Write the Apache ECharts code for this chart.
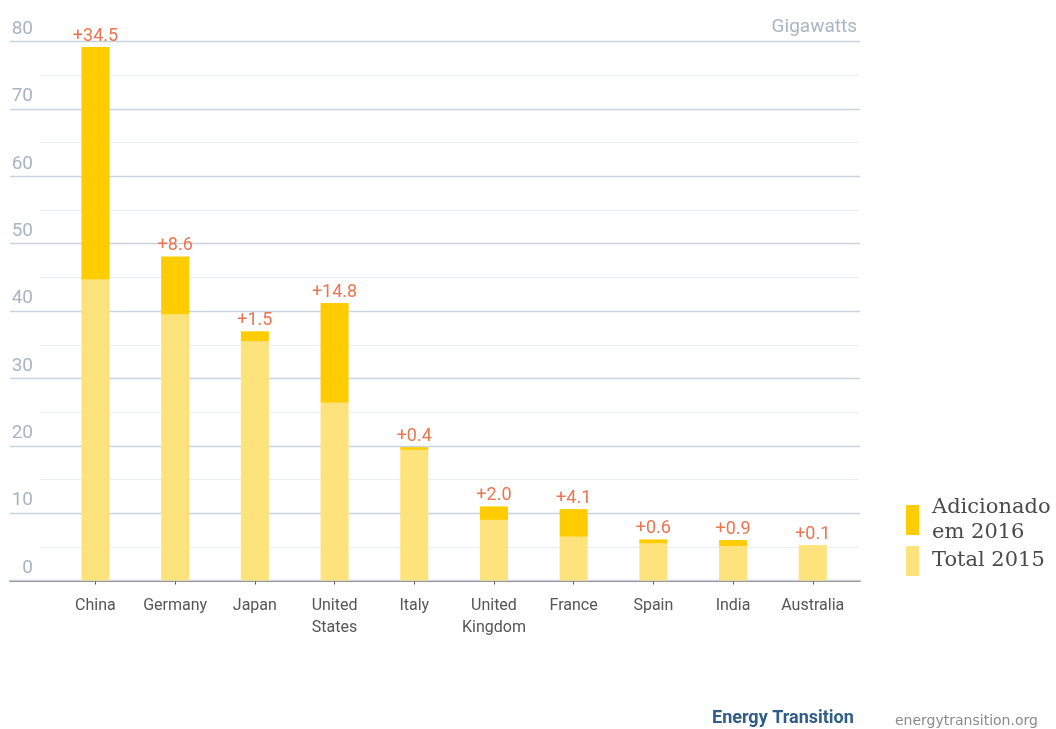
<!DOCTYPE html>
<html>
<head>
<meta charset="utf-8">
<title>Solar PV capacity by country</title>
<script src="https://cdn.jsdelivr.net/npm/echarts@6/dist/echarts.min.js"></script>
<style>
  html, body { margin: 0; padding: 0; background: #ffffff; }
  #chart { width: 1056px; height: 729px; }
</style>
</head>
<body>
<div id="chart"></div>
<script>
// Installed solar capacity (GW): end-2015 stock plus what was added in 2016
const categories = ['China', 'Germany', 'Japan', 'United\nStates', 'Italy', 'United\nKingdom', 'France', 'Spain', 'India', 'Australia'];
const total2015 = [44.7, 39.5, 35.5, 26.4, 19.4, 9.0, 6.5, 5.5, 5.1, 5.1];
const added2016 = [34.5, 8.6, 1.5, 14.8, 0.4, 2.0, 4.1, 0.6, 0.9, 0.1];
const yTicks = { min: 0, max: 80, major: 10, minor: 5 };
const seriesNames = ['Total 2015', 'Adicionado em 2016'];

const AXIS_GREY = '#a9b5c2';
const PLOT_TOP = 41.7;
const PLOT_BOTTOM = 148.5;

const chart = echarts.init(document.getElementById('chart'), null, { renderer: 'canvas' });

chart.setOption({
  animation: false,
  backgroundColor: '#ffffff',
  title: {
    text: 'Gigawatts',
    right: 199,
    top: 18,
    padding: 0,
    textStyle: { fontFamily: 'Roboto', fontSize: 19, fontWeight: 'normal', color: AXIS_GREY }
  },
  legend: {
    orient: 'vertical',
    left: 906,
    top: 495,
    padding: 0,
    itemWidth: 13,
    itemHeight: 30,
    itemGap: 1,
    icon: 'rect',
    selectedMode: false,
    data: [seriesNames[1], seriesNames[0]],
    formatter: function (name) { return name.replace(' em ', '\nem '); },
    textStyle: { fontFamily: 'DejaVu Serif', fontSize: 21, lineHeight: 25, color: '#4a4a4a', padding: [0, 0, 0, 8] }
  },
  grid: [
    // minor gridlines (every 5)
    { left: 40, right: 197, top: PLOT_TOP, bottom: PLOT_BOTTOM },
    // major gridlines, tick labels and baseline
    { left: 10, right: 196, top: PLOT_TOP, bottom: PLOT_BOTTOM },
    // bars
    { left: 55.6, right: 203.4, top: PLOT_TOP, bottom: PLOT_BOTTOM }
  ],
  xAxis: [
    { gridIndex: 0, type: 'value', min: 0, max: 1, show: false },
    {
      gridIndex: 1, type: 'value', min: 0, max: 1,
      axisLine: { show: true, lineStyle: { color: '#5a5a5a', width: 1.5 } },
      axisTick: { show: false }, axisLabel: { show: false }, splitLine: { show: false }
    },
    {
      gridIndex: 2, type: 'category', data: categories,
      axisLine: { show: false },
      axisTick: { show: true, alignWithLabel: true, length: 4, lineStyle: { color: '#5a5a5a', width: 1 } },
      axisLabel: { margin: 14, fontFamily: 'Roboto', fontSize: 16, lineHeight: 22, color: '#555555', interval: 0 }
    }
  ],
  yAxis: [
    {
      gridIndex: 0, type: 'value', min: yTicks.min, max: yTicks.max, interval: yTicks.minor, z: 0,
      axisLine: { show: false }, axisTick: { show: false }, axisLabel: { show: false },
      splitLine: { show: true, lineStyle: { color: '#e8edf2', width: 1.2 } }
    },
    {
      gridIndex: 1, type: 'value', min: yTicks.min, max: yTicks.max, interval: yTicks.major, z: 1,
      axisLine: { show: false }, axisTick: { show: false },
      axisLabel: {
        inside: true, margin: 23, align: 'right', verticalAlign: 'bottom',
        padding: [0, 0, 3, 0],
        fontFamily: 'Roboto', fontSize: 19, color: AXIS_GREY
      },
      splitLine: { show: true, lineStyle: { color: '#c9d3dd', width: 1.3 } }
    },
    { gridIndex: 2, type: 'value', min: yTicks.min, max: yTicks.max, show: false }
  ],
  series: [
    {
      name: seriesNames[0], type: 'bar', stack: 'pv', xAxisIndex: 2, yAxisIndex: 2,
      data: total2015, barWidth: 28,
      itemStyle: { color: '#fee27c' }
    },
    {
      name: seriesNames[1], type: 'bar', stack: 'pv', xAxisIndex: 2, yAxisIndex: 2,
      data: added2016, barWidth: 28,
      itemStyle: { color: '#ffcc00' },
      label: {
        show: true, position: 'top', distance: 2,
        fontFamily: 'Roboto', fontSize: 18, color: '#ea7550',
        formatter: function (p) { return '+' + p.value.toFixed(1); }
      }
    }
  ],
  graphic: [
    {
      type: 'text', left: 712, top: 709,
      style: { text: 'Energy Transition', fontFamily: 'Roboto', fontWeight: 'bold', fontSize: 18, fill: '#2f5d88' }
    },
    {
      type: 'text', left: 895, top: 714,
      style: { text: 'energytransition.org', fontFamily: 'DejaVu Sans', fontSize: 14, fill: '#8a8a8a' }
    }
  ]
});
</script>
</body>
</html>
